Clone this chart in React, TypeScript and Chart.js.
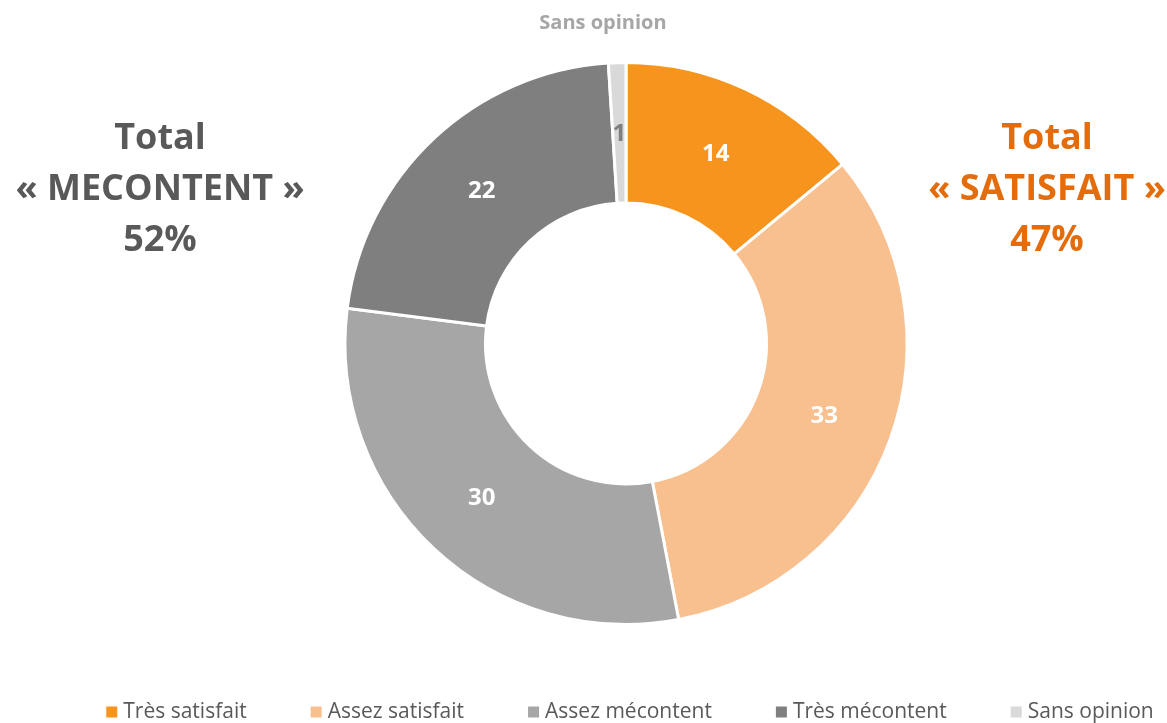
import React, { useEffect, useRef } from "react";
import { Chart, registerables } from "chart.js";

Chart.register(...registerables);

const categories = ["Très satisfait", "Assez satisfait", "Assez mécontent", "Très mécontent", "Sans opinion"];
const values = [14, 33, 30, 22, 1];
const colors = ["#F7941D", "#F9C08F", "#A6A6A6", "#7F7F7F", "#D9D9D9"];
const labelColors = ["#FFFFFF", "#FFFFFF", "#FFFFFF", "#FFFFFF", "#7F7F7F"];
const leftTexts = ["Total", "« MECONTENT »", "52%"];
const rightTexts = ["Total", "« SATISFAIT »", "47%"];
const topText = "Sans opinion";

const FONT = "'Open Sans', sans-serif";

const overlayPlugin = {
  id: "overlay",
  afterDatasetsDraw(chart: any) {
    const ctx = chart.ctx;
    const meta = chart.getDatasetMeta(0);
    ctx.save();
    ctx.textAlign = "center";
    ctx.textBaseline = "middle";
    ctx.font = `bold 24px ${FONT}`;
    meta.data.forEach((arc: any, i: number) => {
      const p = arc.tooltipPosition();
      ctx.fillStyle = labelColors[i];
      ctx.fillText(String(values[i]), p.x, p.y + 1);
    });
    ctx.restore();
  },
  afterDraw(chart: any) {
    const ctx = chart.ctx;
    ctx.save();
    // side texts
    ctx.textAlign = "center";
    ctx.textBaseline = "middle";
    ctx.font = `bold 36px ${FONT}`;
    ctx.fillStyle = "#595959";
    leftTexts.forEach((t, i) => ctx.fillText(t, 160, 139 + i * 51));
    ctx.fillStyle = "#E46C0A";
    rightTexts.forEach((t, i) => ctx.fillText(t, 1047, 139 + i * 51));
    ctx.font = `bold 20px ${FONT}`;
    ctx.fillStyle = "#A6A6A6";
    ctx.fillText(topText, 603, 23);

    // legend
    ctx.font = `21px ${FONT}`;
    ctx.textAlign = "left";
    const box = 11;
    const gap = 6;
    const spacing = 64;
    const widths = categories.map((c) => ctx.measureText(c).width);
    const total = widths.reduce((a, w) => a + box + gap + w, 0) + spacing * (categories.length - 1);
    let x = 630 - total / 2;
    const y = 712;
    categories.forEach((c, i) => {
      ctx.fillStyle = colors[i];
      ctx.fillRect(x, y - box / 2, box, box);
      ctx.fillStyle = "#595959";
      ctx.fillText(c, x + box + gap, y);
      x += box + gap + widths[i] + spacing;
    });
    ctx.restore();
  },
};

export default function App() {
  const ref = useRef<HTMLCanvasElement>(null);
  useEffect(() => {
    if (!ref.current) return;
    const chart = new Chart(ref.current, {
      type: "doughnut",
      data: {
        labels: categories,
        datasets: [
          {
            data: values,
            backgroundColor: colors,
            borderColor: "#FFFFFF",
            borderWidth: 3,
            hoverOffset: 0,
          },
        ],
      },
      options: {
        responsive: false,
        animation: false,
        cutout: "50%",
        layout: { padding: { left: 85, right: 0, top: 61, bottom: 97 } },
        plugins: {
          legend: { display: false },
          tooltip: { enabled: false },
        },
      },
      plugins: [overlayPlugin],
    });
    return () => chart.destroy();
  }, []);
  return (
    <div style={{ position: "absolute", left: 0, top: 0, width: 1167, height: 723, background: "#fff" }}>
      <canvas ref={ref} width={1167} height={723} />
    </div>
  );
}
